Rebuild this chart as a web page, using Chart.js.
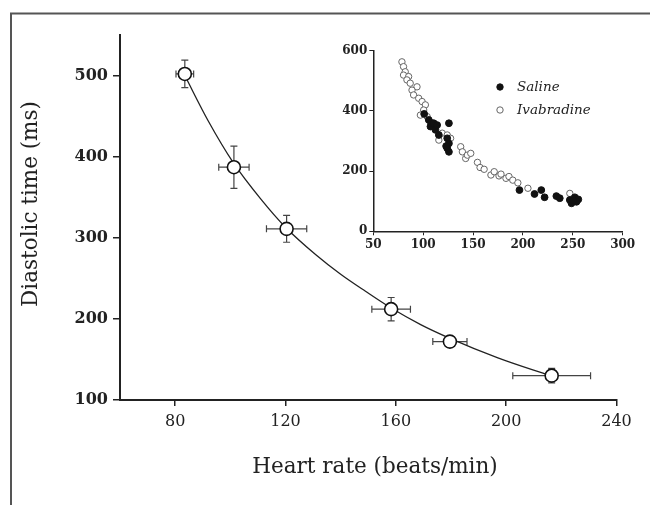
<!DOCTYPE html>
<html>
<head>
<meta charset="utf-8">
<script src="https://cdn.jsdelivr.net/npm/chart.js@4.4.0/dist/chart.umd.min.js"></script>
<style>
  body { margin: 0; background: #fff; }
  #wrap { position: relative; width: 650px; height: 505px; }
  #main { position: absolute; left: 0; top: 0; }
  #inset { position: absolute; left: 330px; top: 35px; }
</style>
</head>
<body>
<div id="wrap">
  <canvas id="main" width="650" height="505"></canvas>
  <canvas id="inset" width="310" height="225"></canvas>
</div>
<script>
// main panel: group means with SEM bars
const heartRate = [83.5, 101.3, 120.4, 158.3, 179.6, 216.5];
const heartRateErr = [3.2, 5.5, 7.3, 7, 6.2, 14.1];
const diastolic = [502, 387, 311, 212, 172, 130];
const diastolicErr = [17, 26, 16.5, 14.4, 4, 9];

// fitted curve
const fitRate = [83.5, 92, 101, 111, 120, 131, 140, 149, 158, 169, 179, 197, 216];
const fitTime = [500, 444, 393, 348, 313, 279, 255, 234, 214, 193, 177, 152, 130];

const mainXTicks = [80, 120, 160, 200, 240];
const mainYTicks = [100, 200, 300, 400, 500];

// inset: individual beats
const salineRate = [101, 105.6, 107.3, 108, 110.6, 112.3, 114, 115.7, 125.8, 124.1, 125.8, 124.1, 125.8, 123,
  196.5, 211.6, 218.4, 221.7, 233.5, 236.9, 247, 252, 255.5, 248.7, 253.7, 250];
const salineTime = [390, 370, 348, 360, 359, 337, 353, 320, 359, 309, 292, 276, 264, 283,
  137, 124, 137, 113, 117, 110, 104, 113, 106, 93, 98, 102];

const ivaRate = [78.7, 80.3, 82, 80.3, 85.4, 83.7, 87, 93.8, 88.8, 90.4, 95.5, 98.9, 102.2, 100.5, 97.2, 104, 109,
  115.7, 119.1, 124.1, 127.5, 137.6, 139.3, 142.6, 144.3, 147.7, 154.4, 157, 161.1, 167.9, 171.2, 176, 178, 183,
  186, 189.8, 194.9, 205, 247];
const ivaTime = [563, 547, 530, 519, 514, 503, 492, 480, 469, 453, 442, 431, 420, 403, 386, 381, 350,
  303, 326, 320, 309, 281, 264, 242, 253, 259, 229, 212, 206, 187, 198, 184, 190, 176,
  182, 170, 161, 143, 126];

const insetXTicks = [50, 100, 150, 200, 250, 300];
const insetYTicks = [0, 200, 400, 600];

const ink = '#222';
const serif = "'DejaVu Serif', serif";

const errorBars = {
  id: 'errorBars',
  beforeDatasetsDraw(chart) {
    const { ctx, scales: { x, y } } = chart;
    const cap = 3.5;
    ctx.save();
    ctx.strokeStyle = '#444';
    ctx.lineWidth = 1.2;
    heartRate.forEach((hr, i) => {
      const px = x.getPixelForValue(hr);
      const py = y.getPixelForValue(diastolic[i]);
      const x0 = x.getPixelForValue(hr - heartRateErr[i]);
      const x1 = x.getPixelForValue(hr + heartRateErr[i]);
      const y0 = y.getPixelForValue(diastolic[i] - diastolicErr[i]);
      const y1 = y.getPixelForValue(diastolic[i] + diastolicErr[i]);
      ctx.beginPath();
      ctx.moveTo(x0, py); ctx.lineTo(x1, py);
      ctx.moveTo(x0, py - cap); ctx.lineTo(x0, py + cap);
      ctx.moveTo(x1, py - cap); ctx.lineTo(x1, py + cap);
      ctx.moveTo(px, y0); ctx.lineTo(px, y1);
      ctx.moveTo(px - cap, y0); ctx.lineTo(px + cap, y0);
      ctx.moveTo(px - cap, y1); ctx.lineTo(px + cap, y1);
      ctx.stroke();
    });
    ctx.restore();
  }
};

// frame round the figure and the two axis titles
const decor = {
  id: 'decor',
  beforeDraw(chart) {
    const ctx = chart.ctx;
    ctx.save();
    ctx.strokeStyle = '#555';
    ctx.lineWidth = 2;
    ctx.beginPath();
    ctx.moveTo(11, 505); ctx.lineTo(11, 13.5); ctx.lineTo(650, 13.5);
    ctx.stroke();
    ctx.restore();
  },
  afterDraw(chart) {
    const ctx = chart.ctx;
    ctx.save();
    ctx.fillStyle = ink;
    ctx.font = '21.5px ' + serif;
    ctx.textAlign = 'center';
    ctx.textBaseline = 'middle';
    ctx.fillText('Heart rate (beats/min)', 375, 467);
    ctx.translate(31, 204);
    ctx.rotate(-Math.PI / 2);
    ctx.fillText('Diastolic time (ms)', 0, 0);
    ctx.restore();
  }
};

new Chart(document.getElementById('main'), {
  type: 'scatter',
  data: {
    datasets: [{
      label: 'Mean',
      data: heartRate.map((v, i) => ({ x: v, y: diastolic[i] })),
      pointRadius: 6.5,
      pointBackgroundColor: '#fff',
      pointBorderColor: '#111',
      pointBorderWidth: 1.6
    }, {
      label: 'Fit',
      data: fitRate.map((v, i) => ({ x: v, y: fitTime[i] })),
      showLine: true,
      cubicInterpolationMode: 'monotone',
      borderColor: ink,
      borderWidth: 1.3,
      pointRadius: 0
    }]
  },
  options: {
    responsive: false,
    animation: false,
    layout: { padding: { left: 0, top: 35, right: 33.5, bottom: 0 } },
    plugins: { legend: { display: false }, tooltip: { enabled: false } },
    scales: {
      x: {
        min: 60, max: 240,
        afterBuildTicks: s => { s.ticks = mainXTicks.map(v => ({ value: v })); },
        afterFit: s => { s.height = 105; },
        grid: { drawOnChartArea: false, tickLength: 6, color: ink, lineWidth: 1.5 },
        border: { color: ink, width: 2 },
        ticks: { color: ink, padding: 6, maxRotation: 0, font: { family: serif, size: 16 } }
      },
      y: {
        min: 100, max: 550,
        afterBuildTicks: s => { s.ticks = mainYTicks.map(v => ({ value: v })); },
        afterFit: s => { s.width = 120; },
        grid: { drawOnChartArea: false, tickLength: 7, color: ink, lineWidth: 1.5 },
        border: { color: ink, width: 2 },
        ticks: { color: ink, padding: 5, font: { family: serif, size: 16, weight: 'bold' } }
      }
    }
  },
  plugins: [errorBars, decor]
});

const insetLegend = {
  id: 'insetLegend',
  afterDraw(chart) {
    const ctx = chart.ctx;
    const items = chart.data.datasets;
    ctx.save();
    ctx.font = 'italic 13.5px ' + serif;
    ctx.textBaseline = 'middle';
    items.forEach((ds, i) => {
      const cy = 52 + i * 23;
      ctx.beginPath();
      ctx.arc(170, cy, 3.2, 0, Math.PI * 2);
      ctx.fillStyle = ds.backgroundColor;
      ctx.fill();
      ctx.lineWidth = 1;
      ctx.strokeStyle = ds.borderColor;
      ctx.stroke();
      ctx.fillStyle = ink;
      ctx.fillText(ds.label, 187, cy);
    });
    ctx.restore();
  }
};

new Chart(document.getElementById('inset'), {
  type: 'scatter',
  data: {
    datasets: [{
      label: 'Saline',
      data: salineRate.map((v, i) => ({ x: v, y: salineTime[i] })),
      backgroundColor: '#111',
      borderColor: '#111',
      pointRadius: 3.4,
      borderWidth: 1
    }, {
      label: 'Ivabradine',
      data: ivaRate.map((v, i) => ({ x: v, y: ivaTime[i] })),
      backgroundColor: '#fff',
      borderColor: '#666',
      pointRadius: 3.2,
      borderWidth: 1
    }]
  },
  options: {
    responsive: false,
    animation: false,
    layout: { padding: { left: 0, top: 15.7, right: 17.3, bottom: 0 } },
    plugins: { legend: { display: false }, tooltip: { enabled: false } },
    scales: {
      x: {
        min: 50, max: 300,
        afterBuildTicks: s => { s.ticks = insetXTicks.map(v => ({ value: v })); },
        afterFit: s => { s.height = 28.7; },
        grid: { drawOnChartArea: false, tickLength: 4, color: ink, lineWidth: 1 },
        border: { color: ink, width: 1.5 },
        ticks: { color: ink, padding: 2, maxRotation: 0, font: { family: serif, size: 12, weight: 'bold' } }
      },
      y: {
        min: 0, max: 600,
        afterBuildTicks: s => { s.ticks = insetYTicks.map(v => ({ value: v })); },
        afterFit: s => { s.width = 43.3; },
        grid: { drawOnChartArea: false, tickLength: 4, color: ink, lineWidth: 1 },
        border: { color: ink, width: 1.5 },
        ticks: { color: ink, padding: 2, font: { family: serif, size: 12, weight: 'bold' } }
      }
    }
  },
  plugins: [insetLegend]
});
</script>
</body>
</html>
